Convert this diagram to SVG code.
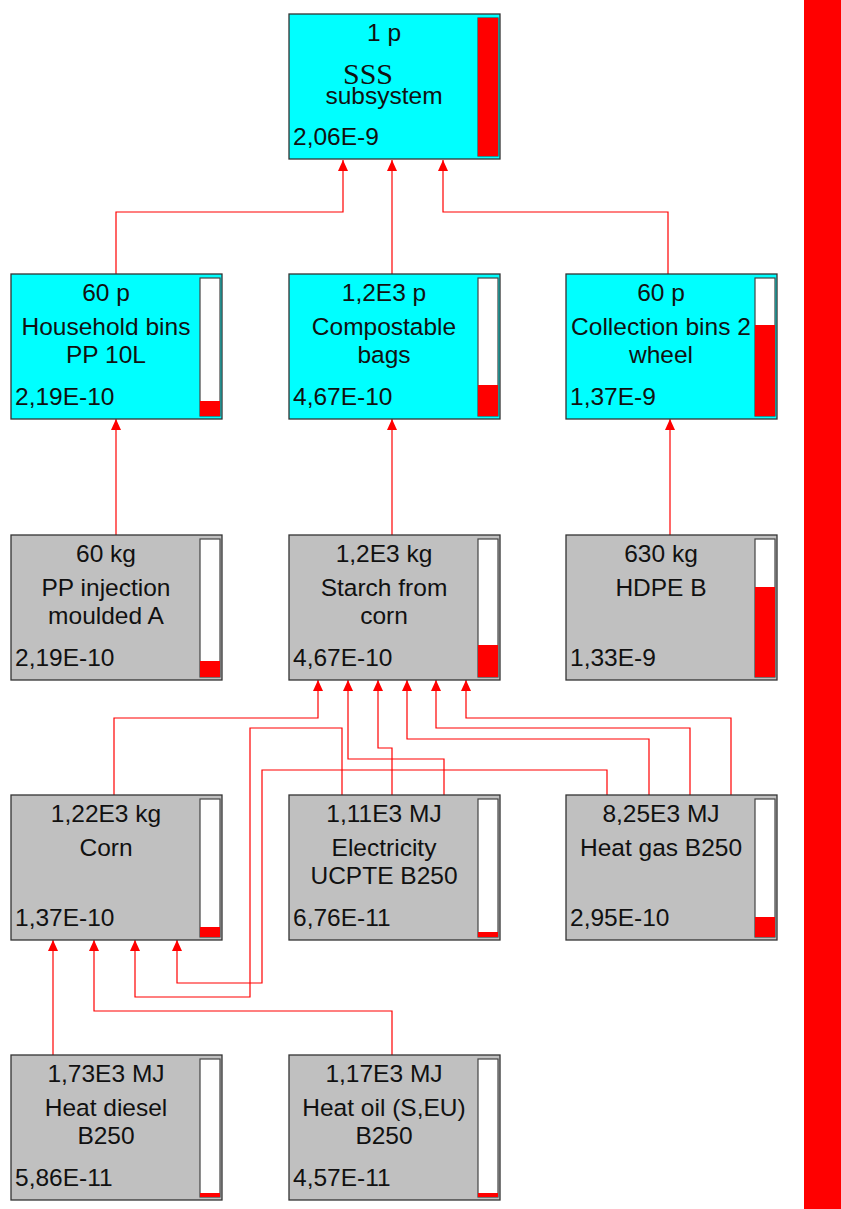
<svg xmlns="http://www.w3.org/2000/svg" width="841" height="1209" viewBox="0 0 841 1209">
<defs>
<style>
.box{stroke:#333;stroke-width:1.3}
.cy{fill:#00ffff}
.gr{fill:#c0c0c0}
.bar{fill:#fff;stroke:#444;stroke-width:1.2}
.lvl{fill:#ff0000}
.t{font-family:"Liberation Sans",Arial,sans-serif;font-size:24.5px;fill:#111}
.c{text-anchor:middle}
.con path{fill:none;stroke:#ff0000;stroke-width:1.2;marker-end:url(#ah)}
</style>
<marker id="ah" viewBox="0 0 11 10" refX="11" refY="5" markerWidth="11" markerHeight="10" markerUnits="userSpaceOnUse" orient="auto">
<path d="M0,0 L11,5 L0,10 z" fill="#ff0000"/>
</marker>
</defs>
<rect width="841" height="1209" fill="#fff"/>
<rect x="804" y="0" width="37" height="1209" fill="#ff0000"/>

<g id="connectors" class="con">
<path d="M116,274 V212 H343 V160"/>
<path d="M392,274 V160"/>
<path d="M668,274 V212 H443 V160"/>
<path d="M116,535 V419"/>
<path d="M392,535 V419"/>
<path d="M670,535 V419"/>
<path d="M114,795 V718 H318 V680"/>
<path d="M444,795 V759 H348 V680"/>
<path d="M392,795 V748 H378 V680"/>
<path d="M649,795 V739 H407 V680"/>
<path d="M690,795 V728 H436 V680"/>
<path d="M731,795 V718 H466 V680"/>
<path d="M342,795 V728 H250 V997 H135 V940"/>
<path d="M607,795 V770 H262 V983 H177 V940"/>
<path d="M53,1055 V940"/>
<path d="M392,1055 V1011 H94 V940"/>
</g>

<g id="n_sss">
<rect class="box cy" x="289" y="14" width="211" height="145"/>
<rect class="bar" x="478" y="18" width="20" height="138"/>
<rect class="lvl" x="478" y="18" width="20" height="138"/>
<text class="t c" x="384" y="41">1 p</text>
<text x="368" y="84" text-anchor="middle" font-family="Liberation Serif,Times New Roman,serif" font-size="30" fill="#111">SSS</text>
<text class="t c" x="384" y="104">subsystem</text>
<text class="t" x="293" y="145">2,06E-9</text>
</g>

<g id="n_household">
<rect class="box cy" x="11" y="274" width="211" height="145"/>
<rect class="bar" x="200" y="278" width="20" height="138"/>
<rect class="lvl" x="200" y="401" width="20" height="15"/>
<text class="t c" x="106" y="301">60 p</text>
<text class="t c" x="106" y="335">Household bins</text>
<text class="t c" x="106" y="363">PP 10L</text>
<text class="t" x="15" y="405">2,19E-10</text>
</g>

<g id="n_compost">
<rect class="box cy" x="289" y="274" width="211" height="145"/>
<rect class="bar" x="478" y="278" width="20" height="138"/>
<rect class="lvl" x="478" y="385" width="20" height="31"/>
<text class="t c" x="384" y="301">1,2E3 p</text>
<text class="t c" x="384" y="335">Compostable</text>
<text class="t c" x="384" y="363">bags</text>
<text class="t" x="293" y="405">4,67E-10</text>
</g>

<g id="n_collection">
<rect class="box cy" x="566" y="274" width="211" height="145"/>
<rect class="bar" x="755" y="278" width="20" height="138"/>
<rect class="lvl" x="755" y="325" width="20" height="91"/>
<text class="t c" x="661" y="301">60 p</text>
<text class="t c" x="661" y="335">Collection bins 2</text>
<text class="t c" x="661" y="363">wheel</text>
<text class="t" x="570" y="405">1,37E-9</text>
</g>

<g id="n_pp">
<rect class="box gr" x="11" y="535" width="211" height="145"/>
<rect class="bar" x="200" y="539" width="20" height="138"/>
<rect class="lvl" x="200" y="661" width="20" height="16"/>
<text class="t c" x="106" y="562">60 kg</text>
<text class="t c" x="106" y="596">PP injection</text>
<text class="t c" x="106" y="624">moulded A</text>
<text class="t" x="15" y="666">2,19E-10</text>
</g>

<g id="n_starch">
<rect class="box gr" x="289" y="535" width="211" height="145"/>
<rect class="bar" x="478" y="539" width="20" height="138"/>
<rect class="lvl" x="478" y="645" width="20" height="32"/>
<text class="t c" x="384" y="562">1,2E3 kg</text>
<text class="t c" x="384" y="596">Starch from</text>
<text class="t c" x="384" y="624">corn</text>
<text class="t" x="293" y="666">4,67E-10</text>
</g>

<g id="n_hdpe">
<rect class="box gr" x="566" y="535" width="211" height="145"/>
<rect class="bar" x="755" y="539" width="20" height="138"/>
<rect class="lvl" x="755" y="587" width="20" height="90"/>
<text class="t c" x="661" y="562">630 kg</text>
<text class="t c" x="661" y="596">HDPE B</text>
<text class="t" x="570" y="666">1,33E-9</text>
</g>

<g id="n_corn">
<rect class="box gr" x="11" y="795" width="211" height="145"/>
<rect class="bar" x="200" y="799" width="20" height="138"/>
<rect class="lvl" x="200" y="927" width="20" height="10"/>
<text class="t c" x="106" y="822">1,22E3 kg</text>
<text class="t c" x="106" y="856">Corn</text>
<text class="t" x="15" y="926">1,37E-10</text>
</g>

<g id="n_electricity">
<rect class="box gr" x="289" y="795" width="211" height="145"/>
<rect class="bar" x="478" y="799" width="20" height="138"/>
<rect class="lvl" x="478" y="932" width="20" height="5"/>
<text class="t c" x="384" y="822">1,11E3 MJ</text>
<text class="t c" x="384" y="856">Electricity</text>
<text class="t c" x="384" y="884">UCPTE B250</text>
<text class="t" x="293" y="926">6,76E-11</text>
</g>

<g id="n_heatgas">
<rect class="box gr" x="566" y="795" width="211" height="145"/>
<rect class="bar" x="755" y="799" width="20" height="138"/>
<rect class="lvl" x="755" y="917" width="20" height="20"/>
<text class="t c" x="661" y="822">8,25E3 MJ</text>
<text class="t c" x="661" y="856">Heat gas B250</text>
<text class="t" x="570" y="926">2,95E-10</text>
</g>

<g id="n_diesel">
<rect class="box gr" x="11" y="1055" width="211" height="145"/>
<rect class="bar" x="200" y="1059" width="20" height="138"/>
<rect class="lvl" x="200" y="1193" width="20" height="4"/>
<text class="t c" x="106" y="1082">1,73E3 MJ</text>
<text class="t c" x="106" y="1116">Heat diesel</text>
<text class="t c" x="106" y="1144">B250</text>
<text class="t" x="15" y="1186">5,86E-11</text>
</g>

<g id="n_heatoil">
<rect class="box gr" x="289" y="1055" width="211" height="145"/>
<rect class="bar" x="478" y="1059" width="20" height="138"/>
<rect class="lvl" x="478" y="1193" width="20" height="4"/>
<text class="t c" x="384" y="1082">1,17E3 MJ</text>
<text class="t c" x="384" y="1116">Heat oil (S,EU)</text>
<text class="t c" x="384" y="1144">B250</text>
<text class="t" x="293" y="1186">4,57E-11</text>
</g>
</svg>
